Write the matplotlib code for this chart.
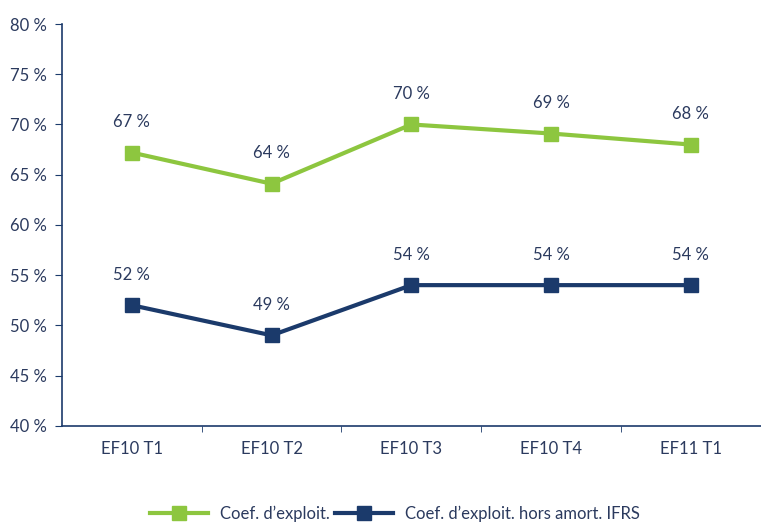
import matplotlib
matplotlib.use("Agg")
import matplotlib.pyplot as plt
from matplotlib.ticker import FuncFormatter

categories = ["EF10 T1", "EF10 T2", "EF10 T3", "EF10 T4", "EF11 T1"]
coef = [67.2, 64.1, 70.0, 69.1, 68.0]
coef_hors = [52.0, 49.0, 54.0, 54.0, 54.0]
labels_coef = ["67 %", "64 %", "70 %", "69 %", "68 %"]
labels_hors = ["52 %", "49 %", "54 %", "54 %", "54 %"]
series_names = ["Coef. d\u2019exploit.", "Coef. d\u2019exploit. hors amort. IFRS"]

green = "#8DC63F"
navy = "#1B3A6B"
txt = "#2B3A5E"

plt.rcParams['font.family'] = ['Lato', 'DejaVu Sans']
fs = 12

fig = plt.figure(figsize=(7.61, 5.23), dpi=100)
ax = fig.add_axes([0.0815, 0.186, 0.918, 0.768])

x = list(range(len(categories)))
ax.plot(x, coef, color=green, lw=3, marker='s', ms=9.5, label=series_names[0])
ax.plot(x, coef_hors, color=navy, lw=3, marker='s', ms=9.5, label=series_names[1])

for xi, v, l in zip(x, coef, labels_coef):
    ax.annotate(l, (xi, v), xytext=(0, 16), textcoords='offset points',
                ha='center', va='bottom', fontsize=fs, color=txt)
for xi, v, l in zip(x, coef_hors, labels_hors):
    ax.annotate(l, (xi, v), xytext=(0, 16), textcoords='offset points',
                ha='center', va='bottom', fontsize=fs, color=txt)

ax.set_ylim(40, 80)
ax.set_yticks(range(40, 81, 5))
ax.yaxis.set_major_formatter(FuncFormatter(lambda v, p: f"{int(v)} %"))
ax.set_xlim(-0.5, len(categories) - 0.5)
ax.set_xticks(x)
ax.set_xticklabels(categories)
ax.set_xticks([i + 0.5 for i in range(len(categories) - 1)], minor=True)

for s in ['top', 'right']:
    ax.spines[s].set_visible(False)
for s in ['left', 'bottom']:
    ax.spines[s].set_color(navy)
    ax.spines[s].set_linewidth(1.2)

ax.tick_params(axis='y', colors=navy, labelcolor=txt, labelsize=fs, length=5, direction='out', pad=6)
ax.tick_params(axis='x', which='major', length=0, labelcolor=txt, labelsize=fs, pad=11)
ax.tick_params(axis='x', which='minor', length=4, color=navy, direction='out')

leg = fig.legend(loc='lower center', bbox_to_anchor=(0.519, -0.027), ncol=2, frameon=False,
                 fontsize=fs, handlelength=3.5, columnspacing=0.3, handletextpad=0.7)
for t in leg.get_texts():
    t.set_color(txt)

fig.savefig("out.png", dpi=100)
